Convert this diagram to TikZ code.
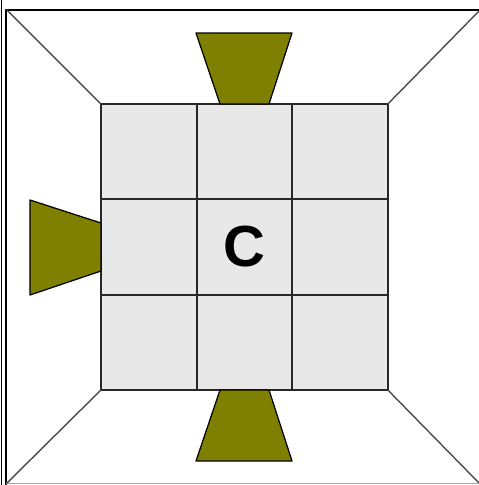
\documentclass[tikz,border=0pt]{standalone}
\usepackage{fontspec}
\setsansfont{Liberation Sans}
\definecolor{cellgray}{RGB}{232,232,232}
\definecolor{flap}{RGB}{128,128,0}
\definecolor{edge}{RGB}{40,40,40}
\tikzset{cell/.style={draw=edge,fill=cellgray,line width=1.1pt,minimum width=1.912cm,minimum height=1.906cm,inner sep=0pt,outer sep=0pt},
 flapside/.style={fill=flap,draw=black,line width=.7pt,line join=round},
 rib/.style={draw=black!70,line width=.8pt},
 frame/.style={draw=black,line width=1.1pt},
 every picture/.style={line join=round}}
\begin{document}
\begin{tikzpicture}[x=0.02cm,y=-0.02cm]
\useasboundingbox (0,0) rectangle (479,485);
% outer frame
\draw[frame] (1.5,0) -- (1.5,485);
\draw[frame] (6,485) -- (6,10) -- (479,10);
\draw[draw=black!35,line width=.7pt] (6,483.5) -- (479,483.5);
% the 3x3 grid
\foreach \i in {0,1,2}
 \foreach \j in {0,1,2}
  \node[cell] (c\i\j) at ({148.8+95.6*\i},{151.7+95.3*\j}) {};
\node[font=\sffamily\bfseries\fontsize{33}{33}\selectfont] (letter) at (c11.center) {C};
% corner ribs
\coordinate (tl) at (7,10);
\coordinate (tr) at (479,11);
\coordinate (bl) at (7,483);
\coordinate (br) at (479,483);
\draw[rib] (tl) -- (c00.north west);
\draw[rib] (tr) -- (c20.north east);
\draw[rib] (bl) -- (c02.south west);
\draw[rib] (br) -- (c22.south east);
% flaps
\path[flapside] (196,33) -- (292,33) -- (269,104) -- (220,104) -- cycle;
\path[flapside] (30,200) -- (101,223) -- (101,271) -- (30,295) -- cycle;
\path[flapside] (220,390) -- (269,390) -- (292,461) -- (196,461) -- cycle;
\end{tikzpicture}
\end{document}
